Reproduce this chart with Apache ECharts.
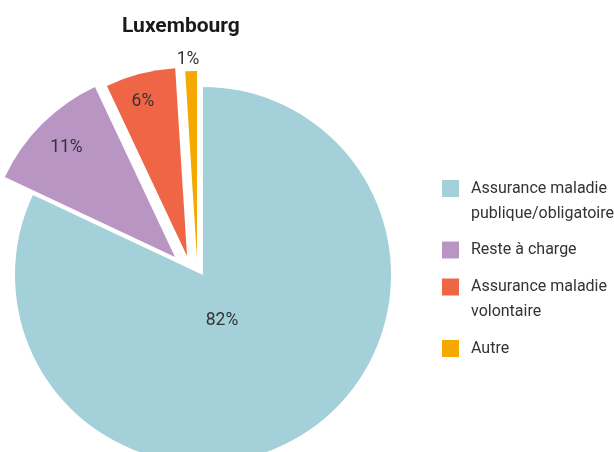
<!DOCTYPE html>
<html>
<head>
<meta charset="utf-8">
<script src="https://cdn.jsdelivr.net/npm/echarts@6/dist/echarts.min.js"></script>
<style>
  html, body { margin: 0; padding: 0; background: #fff; }
  #chart { width: 614px; height: 452px; }
</style>
</head>
<body>
<div id="chart"></div>
<script>
// données
const categories = ['Assurance maladie\npublique/obligatoire', 'Reste à charge', 'Assurance maladie\nvolontaire', 'Autre'];
const shares = [82, 11, 6, 1];
const colors = ['#a4d0da', '#b995c4', '#ee6646', '#f5a800'];

const FONT = 'Roboto, "Liberation Sans", sans-serif';

// chaque part "éclatée" a son propre centre
const sliceCenters = [[203, 275], [175, 257], [187, 256], [197, 259]];
// décalage des étiquettes par rapport à la position "inside"
const labelShift = [[-33, -36], [-40, -41], [-20, -60], [-6, -102]];

const rich = {
  sp: { width: 17 },
  gap: { width: 12 },
  t: { fontSize: 16, lineHeight: 25, color: '#333', fontFamily: FONT }
};
colors.forEach(function (c, i) {
  rich['b' + i] = { width: 17, height: 17, backgroundColor: c };
});

// une série par part, les autres parts restent invisibles
const series = categories.map(function (cat, k) {
  return {
    type: 'pie',
    center: sliceCenters[k],
    radius: 188,
    startAngle: 90,
    clockwise: true,
    silent: true,
    emphasis: { disabled: true },
    label: {
      position: 'inside',
      formatter: '{c}%',
      fontFamily: FONT,
      fontSize: 17.5,
      color: '#333'
    },
    labelLine: { show: false },
    labelLayout: function (params) {
      if (params.dataIndex !== k) return {};
      const s = labelShift[k];
      return { dx: s[0], dy: s[1] };
    },
    data: categories.map(function (name, i) {
      return {
        name: name,
        value: shares[i],
        itemStyle: { color: i === k ? colors[i] : 'rgba(0,0,0,0)' },
        label: { show: i === k }
      };
    })
  };
});

const myChart = echarts.init(document.getElementById('chart'));
const options = {
  animation: false,
  title: {
    text: 'Luxembourg',
    left: 122,
    top: 16,
    padding: 0,
    textStyle: { fontFamily: FONT, fontSize: 21, fontWeight: 'bold', color: '#1a1a1a' }
  },
  legend: {
    orient: 'vertical',
    left: 432,
    top: 175,
    itemWidth: 0,
    itemHeight: 0,
    itemGap: 20,
    selectedMode: false,
    data: categories,
    formatter: function (name) {
      const i = categories.indexOf(name);
      return name.split('\n').map(function (line, j) {
        return (j === 0 ? '{b' + i + '|}' : '{sp|}') + '{gap|}{t|' + line + '}';
      }).join('\n');
    },
    textStyle: { rich: rich }
  },
  series: series
};
myChart.setOption(options);
</script>
</body>
</html>
